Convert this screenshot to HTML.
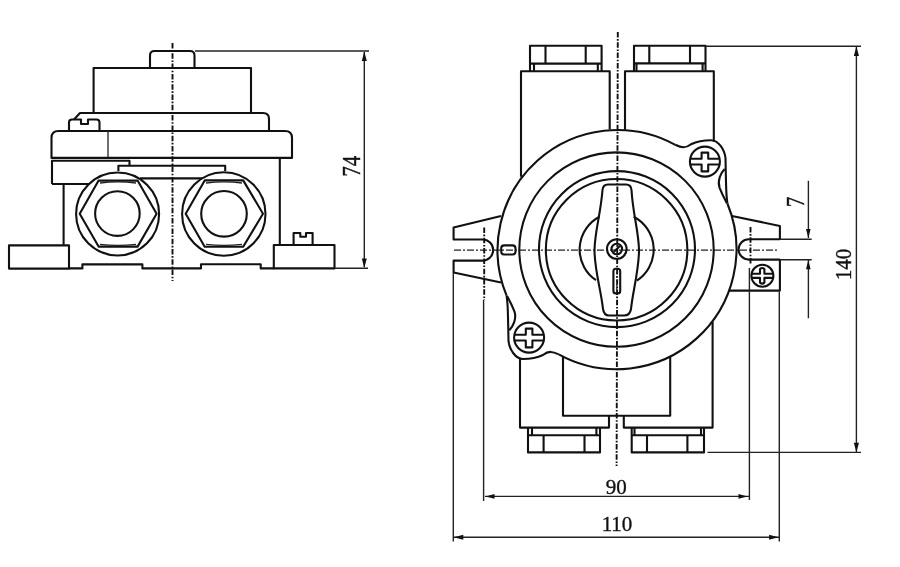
<!DOCTYPE html>
<html>
<head>
<meta charset="utf-8">
<title>Drawing</title>
<style>
html,body{margin:0;padding:0;background:#fff;}
body{width:900px;height:567px;overflow:hidden;font-family:"Liberation Serif",serif;}
svg{display:block;}
.m{fill:none;stroke:#111;stroke-width:2.1;stroke-linejoin:round;stroke-linecap:butt;}
.t{fill:none;stroke:#222;stroke-width:1.3;}
.c{fill:none;stroke:#111;stroke-width:1.9;stroke-dasharray:5.5 1.6 1.6 1.6;}
.ch{fill:none;stroke:#222;stroke-width:1.25;stroke-dasharray:7 2 2 2;}
.d{fill:none;stroke:#222;stroke-width:1.4;}
.a{fill:#111;stroke:none;}
text{font-family:"Liberation Serif",serif;font-size:21px;fill:#111;stroke:#111;stroke-width:0.35;}
</style>
</head>
<body>
<svg width="900" height="567" viewBox="0 0 900 567" style="filter:grayscale(1)">
<rect width="900" height="567" fill="#fff"/>

<!-- ================= LEFT VIEW (side elevation) ================= -->
<g id="left">
  <!-- centre line -->
  <path class="c" d="M172.5,43 V281"/>
  <!-- top knob -->
  <path class="m" d="M150,68 V55.5 Q150,51 154.5,51 H190 Q194.5,51 194.5,55.5 V68"/>
  <!-- upper body -->
  <path class="m" d="M93.6,113 V68 H251 V113"/>
  <!-- flange 1 -->
  <path class="m" d="M74,119.5 L80,113 H263 Q269,113 269,119 V130.5"/>
  <!-- screw left -->
  <path class="m" d="M69,130.5 V122.5 Q69,119.5 72,119.5 H81 V124 H88 V119.5 H96.5 Q99.5,119.5 99.5,122.5 V130.5"/>
  <!-- cover rim -->
  <path class="m" d="M51.5,157.9 V138 Q51.5,131 58.5,131 H285 Q292,131 292,138 V157.9 Z"/>
  <path class="t" d="M108,131 V157"/>
  <!-- bar under rim -->
  <path class="m" d="M52,184 V160.7 H129.5 V165.6"/>
  <path class="m" d="M52,184 H89"/>
  <!-- gasket -->
  <path class="m" d="M118.4,171 V165.8 H225.2 V171" stroke-width="2.4"/>
  <!-- line between circles -->
  <path class="m" d="M140,178.4 H202"/>
  <!-- body sides -->
  <path class="m" d="M63.6,184 V245.4"/>
  <path class="m" d="M279.8,157.9 V245"/>
  <!-- feet -->
  <path class="m" d="M69,245.4 H9 V268.6 H69 Z"/>
  <path class="m" d="M273.8,245 H334.5 V268.4 H273.8 Z"/>
  <!-- bottom -->
  <path class="m" d="M69,268.4 H82.4 V264.4 H142.4 V268.4 H201 V264.2 H260.7 V268.4 H273.8"/>
  <!-- right foot screw -->
  <path class="m" d="M293.6,245 V233 H300.3 V236.7 H306 V233 H312.6 V245"/>
  <!-- gland 1 -->
  <circle class="m" cx="117.6" cy="214" r="41.5"/>
  <path class="m" d="M79.7,213.7 L98.6,180.6 H137.6 L156.6,213.7 L137.6,246.6 H98.6 Z"/>
  <path class="t" d="M100,183 Q118,180.8 136,183 M100,244.4 Q118,246.4 136,244.4"/>
  <circle class="m" cx="117.4" cy="213.6" r="22.3"/>
  <!-- gland 2 -->
  <circle class="m" cx="223.8" cy="214" r="41.7"/>
  <path class="m" d="M185.7,213.7 L204.7,180.4 H243.2 L263,213.7 L243.2,246.8 H204.7 Z"/>
  <path class="t" d="M206,183 Q224,180.8 242,183 M206,244.4 Q224,246.4 242,244.4"/>
  <circle class="m" cx="224" cy="213.8" r="22.8"/>
  <!-- dimension 74 -->
  <path class="d" d="M195,51 H369" stroke-width="1.9"/><path class="d" d="M334.5,268.3 H368" stroke-width="2.3" stroke="#555"/>
  <path class="d" d="M364.3,52 V267" stroke-width="2.2" stroke="#111"/>
  <path class="a" d="M364.3,51.5 L361.8,61 H366.8 Z M364.3,268 L361.8,258.5 H366.8 Z"/>
  <text transform="translate(359.5,166.2) rotate(-90) scale(1,1.17)" text-anchor="middle">74</text>
</g>

<!-- ================= RIGHT VIEW (plan) ================= -->
<g id="right">
  <!-- centre lines -->
  <path class="c" d="M617.8,32 L616.6,466"/>
  <path class="ch" d="M454,250.2 H778"/>
  <path class="c" d="M484.2,227.5 V300"/>
  <path class="c" d="M750.5,227 V264"/>

  <!-- tubes top -->
  <path class="m" d="M521,176.7 V71.2 H609.7 V129.6"/>
  <path class="m" d="M625,129.7 V71.2 H713.8 V141.8"/>
  <!-- top-left nut -->
  <path class="m" d="M530,71 V45.8 H601.6 V71 M530,63.6 H601.6 M545.5,45.8 V63.6 M585.7,45.8 V63.6 M534,63.6 V71 M597.8,63.6 V71"/>
  <!-- top-right nut -->
  <path class="m" d="M634,71 V45.8 H705.5 V71 M634,63.4 H705.5 M649.3,45.8 V63.4 M690,45.8 V63.4 M636.5,63.4 V71 M702.6,63.4 V71"/>

  <!-- tubes bottom -->
  <path class="m" d="M520,358 V427.6 H609 V416"/>
  <path class="m" d="M623.8,416 V427.6 H712.6 V321.5"/>
  <!-- inner block bottom -->
  <path class="m" d="M563,356.8 V415.8 H670.2 V356.8"/>
  <!-- bottom-left nut -->
  <path class="m" d="M528,427.6 V452.4 H600 V427.6 M528,435.2 H600 M543.6,435.2 V452.4 M584.5,435.2 V452.4 M532,427.6 V435.2 M596.4,427.6 V435.2"/>
  <!-- bottom-right nut -->
  <path class="m" d="M631.7,427.6 V452.4 H704 V427.6 M631.7,435.2 H704 M647,435.2 V452.4 M687.4,435.2 V452.4 M634.5,427.6 V435.2 M701,427.6 V435.2"/>

  <!-- outer circle with ears -->
  <path class="m" d="M727.4,203.5 A120,120 0 0 1 558.7,354.4"/>
  <path class="m" d="M506.6,295.7 A120,120 0 0 1 675.3,144.8"/>
  <g id="ear1" transform="translate(704.9,161.6)">
    <path class="m" d="M-29.6,-16.8 C-23.5,-13.8 -19.4,-13.0 -13.9,-17.4 C-8,-20.2 0,-21.4 6.1,-21.4 C13.5,-21.4 19.6,-12 20.6,-3.6 L20.9,12 C21.3,25 21,32 22.5,41.9"/>
    <path class="m" d="M19.8,7.4 C16,11 12.3,19 14.6,26 C16.5,31 19.5,37 22,41.6" stroke-width="1.7"/>
    <circle class="m" cx="0" cy="0" r="15" stroke-width="2.3"/>
    <path class="m" d="M-14.6,-2.9 H-3.3 V-9 H3.3 V-2.9 H14.6 M-14.6,2.9 H-3.3 V9.8 H3.3 V2.9 H14.6" stroke-width="1.8"/>
  </g>
  <g id="ear2" transform="translate(529.1,337.6) rotate(180)">
    <path class="m" d="M-29.6,-16.8 C-23.5,-13.8 -19.4,-13.0 -13.9,-17.4 C-8,-20.2 0,-21.4 6.1,-21.4 C13.5,-21.4 19.6,-12 20.6,-3.6 L20.9,12 C21.3,25 21,32 22.5,41.9"/>
    <path class="m" d="M19.8,7.4 C16,11 12.3,19 14.6,26 C16.5,31 19.5,37 22,41.6" stroke-width="1.7"/>
    <circle class="m" cx="0" cy="0" r="15" stroke-width="2.3"/>
    <path class="m" d="M-14.6,-2.9 H-3.3 V-9.8 H3.3 V-2.9 H14.6 M-14.6,2.9 H-3.3 V9 H3.3 V2.9 H14.6" stroke-width="1.8"/>
  </g>

  <!-- inner circles -->
  <circle class="m" cx="616.5" cy="249.6" r="97.2"/>
  <circle class="m" cx="617" cy="249.1" r="78"/>
  <circle class="m" cx="616.6" cy="249.8" r="70.75"/>

  <!-- knob base arcs -->
  <path class="m" d="M599.5,216.7 A37,37 0 0 0 596,280.2"/>
  <path class="m" d="M633.7,216.7 A37,37 0 0 1 636.8,280.6"/>
  <!-- handle -->
  <path class="m" d="M608,184.5 H626 Q631,184.5 631.5,190 C633,215 638.5,230 639,250 C639,270 633,290 631,309 Q630,315.5 624,315.5 H609 Q604,315.5 603,309 C601,290 594.5,270 594.5,250 C595,230 600.5,215 602.5,190 Q603,184.5 608,184.5 Z"/>
  <!-- centre screw -->
  <circle class="m" cx="616.8" cy="249" r="9.8" stroke-width="1.7"/>
  <circle class="m" cx="616.8" cy="249" r="5.3" stroke-width="3.2"/>
  <path class="m" d="M613.8,252 L619.8,246" stroke-width="2.2"/>
  <!-- indicator -->
  <rect class="m" x="613.4" y="268.8" width="6.8" height="24.6" rx="2.5" stroke-width="2"/>
  <path class="t" d="M616.8,272 V291" stroke-dasharray="2 2" stroke-width="1.6"/>

  <!-- left lug -->
  <path class="m" d="M501,216 L453.6,227.5 V239.5 H482.6 A10.55,10.55 0 0 1 482.6,260.6 H453.6 V272.5 L501,282.5" stroke-width="2.3"/>
  <!-- small slot left -->
  <rect class="m" x="501.2" y="245.4" width="14.3" height="9.1" rx="3" stroke-width="2.7"/>
  <!-- right lug -->
  <path class="m" d="M732,216 L779.9,226 V239.2"/>
  <path class="m" d="M779.9,239.2 H748.8 A10.2,10.2 0 0 0 748.8,259.6 H779.9" stroke-width="2.3"/>
  <path class="m" d="M729.2,290.6 H779.9 V259.6"/>
  <circle class="m" cx="762.4" cy="275.8" r="11" stroke-width="2.4"/>
  <path class="m" d="M751.7,273.7 H760 V269 Q762.2,267 764.4,269 V273.7 H773.1 M751.7,277.9 H760 V282.6 Q762.2,284.6 764.4,282.6 V277.9 H773.1" stroke-width="1.7"/>

  <!-- extension lines -->
  <path class="d" d="M453.3,273 V541.5 M779.3,290 V541.5" stroke-width="1.7" stroke="#333"/>
  <path class="d" d="M483.6,300 V501 M749.4,268 V500" stroke-width="1.7" stroke="#555"/>
  <path class="d" d="M705.5,46.2 H861 M707.5,452.4 H861"/>
  <path class="d" d="M779.9,239.2 H811.7 M779.9,259.8 H811.7" stroke-width="2.2" stroke="#444"/>
  <!-- dim 90 -->
  <path class="d" d="M485,496.4 H749" stroke-width="1.5" stroke="#333"/>
  <path class="a" d="M485.5,496.4 L494.5,494 V498.8 Z M747.5,496.4 L738.5,494 V498.8 Z"/>
  <text x="616.3" y="493.6" text-anchor="middle">90</text>
  <!-- dim 110 -->
  <path class="d" d="M454,537.2 H779" stroke-width="2.1"/>
  <path class="a" d="M453.8,537.2 L463.3,534.7 V539.7 Z M778.6,537.2 L769.1,534.7 V539.7 Z"/>
  <text x="617" y="530.6" text-anchor="middle">110</text>
  <!-- dim 140 -->
  <path class="d" d="M856.4,47 V452" stroke-width="1.3" stroke="#333"/>
  <path class="a" d="M856.4,46.5 L853.8,56 H859 Z M856.4,452.2 L853.8,442.7 H859 Z"/>
  <text transform="translate(851,264.5) rotate(-90) scale(1.0,1.12)" text-anchor="middle">140</text>
  <!-- dim 7 -->
  <path class="d" d="M808.4,180.7 V238 M808.4,260 V318.3" stroke-width="1.6" stroke="#111"/>
  <path class="a" d="M808.3,238 L806,229 H810.6 Z M808.3,260.2 L806,269.2 H810.6 Z"/>
  <text transform="translate(804,202) rotate(-90) scale(1.0,1.17)" text-anchor="middle">7</text>
</g>
</svg>
</body>
</html>
